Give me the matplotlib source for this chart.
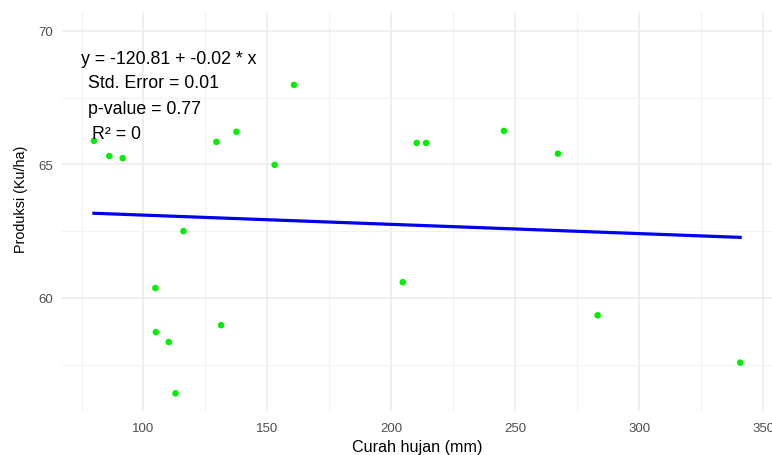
import matplotlib.pyplot as plt
from matplotlib.ticker import MultipleLocator
import numpy as np

# Curah hujan (mm) vs Produksi (Ku/ha)
curah_hujan = [80.0, 86.2, 91.6, 129.4, 137.5, 152.9, 160.7, 210.2, 214.0, 245.4,
               267.2, 116.1, 104.8, 105.0, 110.2, 131.3, 112.9, 204.6, 283.2, 340.7]
produksi = [65.88, 65.31, 65.23, 65.84, 66.22, 64.98, 67.97, 65.80, 65.80, 66.25,
            65.40, 62.50, 60.37, 58.72, 58.35, 58.98, 56.43, 60.59, 59.35, 57.58]

teks_model = ["y = -120.81 + -0.02 * x", "Std. Error = 0.01", "p-value = 0.77", "R² = 0"]

plt.rcParams['font.family'] = ['Liberation Sans', 'DejaVu Sans']

fig = plt.figure(figsize=(7.72, 4.56), dpi=100)
ax = fig.add_axes([0.0799, 0.0971, 0.9206, 0.8750])

x = np.array(curah_hujan)
y = np.array(produksi)

# garis regresi linear (lm)
b, a = np.polyfit(x, y, 1)
xs = np.array([x.min(), x.max()])
ax.plot(xs, a + b * xs, color="#0000EE", lw=2.3, zorder=3)

ax.scatter(x, y, s=22, color="#00EE00", edgecolors="none", zorder=4)

ax.set_xlim(67, 353.7)
ax.set_ylim(55.78, 70.71)

ax.xaxis.set_major_locator(MultipleLocator(50))
ax.xaxis.set_minor_locator(MultipleLocator(25))
ax.yaxis.set_major_locator(MultipleLocator(5))
ax.yaxis.set_minor_locator(MultipleLocator(2.5))
ax.grid(which="major", color="#EBEBEB", lw=1.1)
ax.grid(which="minor", color="#F2F2F2", lw=0.8)
ax.set_axisbelow(True)
for s in ax.spines.values():
    s.set_visible(False)
ax.tick_params(which="both", length=0, labelsize=9.5, labelcolor="#4D4D4D")
ax.tick_params(axis="x", pad=8)
ax.tick_params(axis="y", pad=6)

ax.set_xlabel("Curah hujan (mm)", fontsize=11.6, labelpad=4)
fig.text(21.5 / 772, 1 - 199 / 456, "Produksi (Ku/ha)", fontsize=10.4,
         rotation=90, ha="center", va="center")

# anotasi model
posisi = [(81, 59), (88, 83.5), (88, 109.5), (92, 134.5)]
for t, (px, py) in zip(teks_model, posisi):
    fig.text(px / 772, 1 - py / 456, t, fontsize=12.8, ha="left", va="center", color="black")

fig.savefig("out.png", dpi=100)
plt.close()
